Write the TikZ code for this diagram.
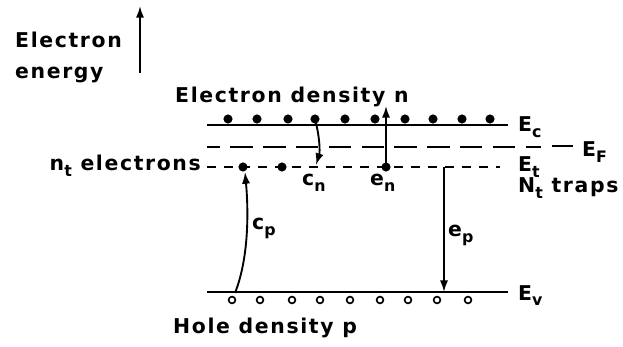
\documentclass[tikz,border=0pt]{standalone}
\usepackage{fontspec}
\setmainfont[LetterSpace=8]{DejaVu Sans}
\usetikzlibrary{arrows.meta}
\newcommand\lowsub[1]{\raisebox{-4.5pt}{\fontsize{13.5}{14}\selectfont #1}}
\begin{document}
\begin{tikzpicture}[x=0.03cm,y=-0.03cm,
  lbl/.style={inner sep=0, anchor=base west, font=\fontsize{17.4}{20}\selectfont\bfseries},
  level/.style={line width=2pt},
  efline/.style={line width=1.8pt, dash pattern=on 19pt off 9pt, dash phase=8pt},
  etline/.style={line width=1.7pt, dash pattern=on 8pt off 6.5pt},
  conn/.style={line width=1.6pt, -{Latex[length=10pt,width=7pt]}},
  edot/.style={circle, fill=black, inner sep=0, minimum size=7.8pt},
  hole/.style={circle, draw=black, line width=1.4pt, fill=white, inner sep=0, minimum size=5.8pt}]
\path[use as bounding box] (0,0) rectangle (623,347);

% axis arrow
\coordinate (axB) at (140,73);
\coordinate (axT) at (140,6);
\draw[conn] (axB) -- (axT);
\node[lbl] (t1) at (15,48) {Electron};
\node[lbl] (t2) at (15,79) {energy};

% levels
\coordinate (ecL) at (207,125); \coordinate (ecR) at (508,125);
\draw[level] (ecL) -- (ecR);
\coordinate (efL) at (207,147); \coordinate (efR) at (541,147);
\draw[efline] (efL) -- (efR);
\coordinate (etL) at (207,167); \coordinate (etR) at (500,167);
\draw[etline] (etL) -- (etR);
\coordinate (evL) at (207,292); \coordinate (evR) at (508,292);
\draw[level] (evL) -- (evR);

% electrons in conduction band
\foreach \x [count=\i] in {228,257,288,315,345,375,405,433,462,490}
  \node[edot] (ce\i) at (\x,119) {};
% holes in valence band
\foreach \x [count=\i] in {232,260,292,320,350,380,408,437,468}
  \node[hole] (vh\i) at (\x,300) {};
% trapped electrons
\node[edot] (tr1) at (243,167) {};
\node[edot] (tr2) at (282,167) {};
\node[edot] (tr3) at (386,167) {};

% labels
\node[lbl] (eden) at (175,103) {Electron density n};
\node[lbl] (hden) at (173,333) {Hole density p};
\node[lbl, anchor=base east] (nt) at (201,171) {n\lowsub{t} electrons};
\node[lbl] (ec) at (518,132) {E\lowsub{c}};
\coordinate (efdA) at (552,146); \coordinate (efdB) at (573,146);
\draw[line width=1.8pt] (efdA) -- (efdB);
\node[lbl] (ef) at (582,157) {E\lowsub{F}};
\node[lbl] (et) at (518,172) {E\lowsub{t}};
\node[lbl] (ntr) at (518,193) {N\lowsub{t} traps};
\node[lbl] (ev) at (518,300) {E\lowsub{v}};
\node[lbl] (cn) at (302,186) {c\lowsub{n}};
\node[lbl] (en) at (370,186) {e\lowsub{n}};
\node[lbl] (cp) at (252,230) {c\lowsub{p}};
\node[lbl] (ep) at (448,237) {e\lowsub{p}};

% transitions
\coordinate (cnEnd) at (316,165);
\draw[conn] (ce4.center) .. controls (320,138) and (320,152) .. (cnEnd);
\coordinate (enEnd) at (386,106);
\draw[conn] (tr3.center) -- (enEnd);
\coordinate (epTop) at (444,167);
\coordinate (epEnd) at (444,292);
\draw[conn] (epTop) -- (epEnd);
\coordinate (cpStart) at (235,293);
\coordinate (cpEnd) at (245,172);
\draw[conn] (cpStart) .. controls (250,255) and (248,205) .. (cpEnd);
\end{tikzpicture}
\end{document}
